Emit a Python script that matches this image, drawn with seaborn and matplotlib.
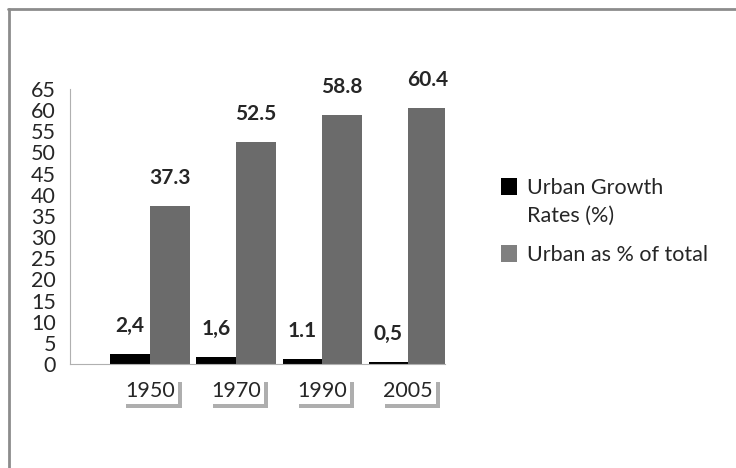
import pandas as pd
import seaborn as sns
import numpy as np
import matplotlib.pyplot as plt
from matplotlib.lines import Line2D
import matplotlib.patheffects as pe

years = ['1950', '1970', '1990', '2005']
growth = [2.4, 1.6, 1.1, 0.5]
urban = [37.3, 52.5, 58.8, 60.4]
growth_labels = ['2,4', '1,6', '1.1', '0,5']
urban_labels = ['37.3', '52.5', '58.8', '60.4']
series = ['Urban Growth\nRates (%)', 'Urban as % of total']

df = pd.DataFrame({
    'year': years * 2,
    'value': growth + urban,
    'series': [series[0]] * 4 + [series[1]] * 4,
})

sns.set_style('white')
plt.rcParams['font.family'] = ['Lato', 'DejaVu Sans']

fig = plt.figure(figsize=(7.36, 4.68), dpi=100)
ax = fig.add_axes([0.095, 0.222, 0.51, 0.588])

sns.barplot(data=df, x='year', y='value', hue='series', ax=ax,
            palette=['#000000', '#6b6b6b'], width=0.92, saturation=1,
            edgecolor='none')

ax.set_ylim(0, 65)
ax.set_xlim(-0.93, 3.43)
ax.set_yticks(range(0, 66, 5))
ax.tick_params(axis='y', labelsize=15.5, length=8, color='#a0a0a0', pad=2)
ax.tick_params(axis='x', labelsize=15.5, length=0, pad=12)
for lab in ax.get_xticklabels():
    lab.set_bbox(dict(facecolor='white', edgecolor='none', pad=2,
                      path_effects=[pe.SimplePatchShadow(offset=(3, -3), alpha=0.45),
                                    pe.Normal()]))
ax.set_xlabel('')
ax.set_ylabel('')
for s in ['top', 'right']:
    ax.spines[s].set_visible(False)
ax.spines['left'].set_color('#b0b0b0')
ax.spines['bottom'].set_color('#b0b0b0')

# value labels
for cont, labs in zip(ax.containers, [growth_labels, urban_labels]):
    ax.bar_label(cont, labels=labs, padding=13, fontsize=15, fontweight='bold')

leg = ax.legend(loc='upper left', bbox_to_anchor=(0.655, 0.66),
                bbox_transform=fig.transFigure, frameon=False, fontsize=15.5,
                handlelength=0.7, handleheight=0.8, handletextpad=0.5,
                labelspacing=0.9)
leg.get_texts()[0].set_linespacing(1.45)
leg.legend_handles[1].set_facecolor('#808080')
# put the marker next to the first line of the two-line label
for hp in leg._legend_handle_box.get_children()[0].get_children():
    hp.align = 'top'

# outer frame (top and left)
fig.add_artist(Line2D([8 / 736, 1], [1 - 9 / 468, 1 - 9 / 468], color='#8c8c8c', lw=2))
fig.add_artist(Line2D([9 / 736, 9 / 736], [0, 1 - 9 / 468], color='#8c8c8c', lw=2))

fig.savefig('out.png', dpi=100)
